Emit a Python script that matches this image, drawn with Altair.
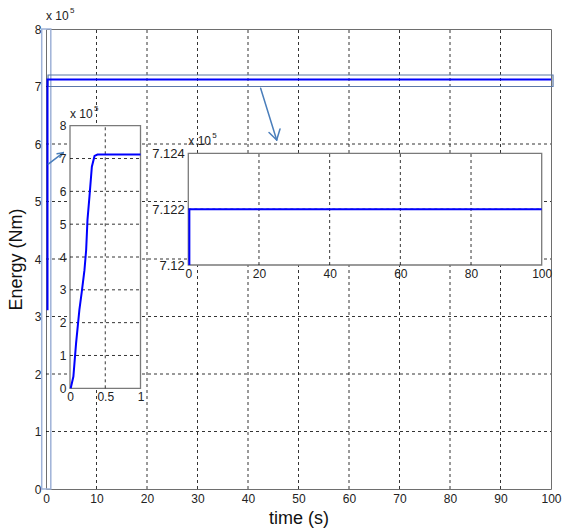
import altair as alt
import pandas as pd

FONT = "Liberation Sans"

# ---------------- data ----------------
main_t = [0.3, 0.3, 100.0]
main_e = [3.11, 7.122, 7.122]

in1_t = [0.01, 0.048, 0.086, 0.133, 0.167, 0.205, 0.229, 0.248, 0.276, 0.31, 0.348, 0.39, 1.0]
in1_e = [0.0, 0.36, 1.37, 2.39, 2.94, 3.60, 4.21, 5.13, 5.84, 6.75, 7.08, 7.122, 7.122]

in2_t = [0.3, 0.3, 100.0]
in2_e = [7.12, 7.122, 7.122]

main_xticks = [0, 10, 20, 30, 40, 50, 60, 70, 80, 90, 100]
main_yticks = [0, 1, 2, 3, 4, 5, 6, 7, 8]
in1_xticks = [0, 0.5, 1]
in1_yticks = [0, 1, 2, 3, 4, 5, 6, 7, 8]
in2_xticks = [0, 20, 40, 60, 80, 100]
in2_yticks = [7.12, 7.122, 7.124]

# highlight boxes (main data units)
zoom_box_x = [0.4, 100.4]
zoom_box_y = [7.0, 7.2]
left_box_x = [-0.85, 0.95]
left_box_y = [0.0, 8.0]

# arrows (main data units): tail->tip and two head strokes
arrow_x = [42.5, 45.68, 45.68]
arrow_y = [6.97, 6.07, 6.07]
arrow_x2 = [45.68, 44.16, 46.34]
arrow_y2 = [6.07, 6.20, 6.26]
arrow2_x = [0.45, 3.43, 3.43]
arrow2_y = [5.65, 5.85, 5.85]
arrow2_x2 = [3.43, 2.2, 2.75]
arrow2_y2 = [5.85, 5.83, 5.77]

# ---------------- helpers ----------------
def seg(x, y, x2, y2):
    return pd.DataFrame({"x": x, "y": y, "x2": x2, "y2": y2})


def grid_df(xt, yt):
    xs, ys, x2s, y2s = [], [], [], []
    for v in xt[1:-1]:
        xs.append(v); ys.append(yt[0]); x2s.append(v); y2s.append(yt[-1])
    for v in yt[1:-1]:
        xs.append(xt[0]); ys.append(v); x2s.append(xt[-1]); y2s.append(v)
    return seg(xs, ys, x2s, y2s)


def make_group(xs, ys, ax, ay):
    def X(f="x"):
        return alt.X(f + ":Q", scale=xs, axis=ax)

    def Y(f="y"):
        return alt.Y(f + ":Q", scale=ys, axis=ay)
    return X, Y


lab = dict(labelFont=FONT, labelColor="#222", labelFlush=False, labelOverlap=False,
           grid=False, ticks=False, domain=False)

# ---------------- main ----------------
mxs = alt.Scale(domain=[0, 100], nice=False, zero=False)
mys = alt.Scale(domain=[0, 8], nice=False, zero=False)
max_ = alt.Axis(values=main_xticks, title="time (s)", labelFontSize=12, labelPadding=4,
                titleFont=FONT, titleFontSize=18, titleFontWeight="normal", titleColor="#111",
                titlePadding=5, orient="bottom", **lab)
may_ = alt.Axis(values=main_yticks, title="Energy (Nm)", labelFontSize=12, labelPadding=5,
                titleFont=FONT, titleFontSize=18, titleFontWeight="normal", titleColor="#111",
                titlePadding=9, orient="left", **lab)
MX, MY = make_group(mxs, mys, max_, may_)

main_grid = alt.Chart(grid_df(main_xticks, main_yticks)).mark_rule(
    color="black", strokeWidth=0.8, strokeDash=[3, 3]
).encode(x=MX(), y=MY(), x2="x2:Q", y2="y2:Q")

left_box = alt.Chart(seg([left_box_x[0]], [left_box_y[0]], [left_box_x[1]], [left_box_y[1]])).mark_rect(
    fill=None, stroke="#9fb2d8", strokeWidth=1.5
).encode(x=MX(), y=MY(), x2="x2:Q", y2="y2:Q")

zoom_box = alt.Chart(seg([zoom_box_x[0]], [zoom_box_y[0]], [zoom_box_x[1]], [zoom_box_y[1]])).mark_rect(
    fill=None, stroke="#5a78a8", strokeWidth=1.2
).encode(x=MX(), y=MY(), x2="x2:Q", y2="y2:Q")

main_line = alt.Chart(pd.DataFrame({"x": main_t, "y": main_e, "i": list(range(len(main_t)))})).mark_line(
    color="#0000ff", strokeWidth=2
).encode(x=MX(), y=MY(), order="i:Q")

arrows = alt.Chart(seg(arrow_x + arrow2_x, arrow_y + arrow2_y, arrow_x2 + arrow2_x2, arrow_y2 + arrow2_y2)).mark_rule(
    color="#4a7ebb", strokeWidth=1.5, strokeCap="round"
).encode(x=MX(), y=MY(), x2="x2:Q", y2="y2:Q")

main_t1 = alt.Chart(pd.DataFrame({"x": [0], "y": [8], "s": ["x 10"]})).mark_text(
    font=FONT, fontSize=12, color="#222", align="left", baseline="alphabetic", dy=-9
).encode(x=MX(), y=MY(), text="s:N")
main_t2 = alt.Chart(pd.DataFrame({"x": [0], "y": [8], "s": ["5"]})).mark_text(
    font=FONT, fontSize=8, color="#222", align="left", baseline="alphabetic", dx=24, dy=-16
).encode(x=MX(), y=MY(), text="s:N")

main = alt.layer(main_grid, left_box, zoom_box, main_line, arrows, main_t1, main_t2)

# ---------------- inset 1 ----------------
i1xs = alt.Scale(domain=[0, 1], range=[24, 94.5], nice=False, zero=False)
i1ys = alt.Scale(domain=[0, 8], range=[359.3, 96.7], nice=False, zero=False)
i1ax = alt.Axis(values=in1_xticks, title=None, orient="bottom", offset=-100.7, labelFontSize=12,
                labelPadding=3, format="~g", zindex=1, **lab)
i1ay = alt.Axis(values=in1_yticks, title=None, orient="left", offset=-24, labelFontSize=12,
                labelPadding=4, zindex=1, **lab)
AX, AY = make_group(i1xs, i1ys, i1ax, i1ay)

in1_box = alt.Chart(seg([in1_xticks[0]], [in1_yticks[0]], [in1_xticks[-1]], [in1_yticks[-1]])).mark_rect(
    fill="white", stroke="#7a7a7a", strokeWidth=1.3
).encode(x=AX(), y=AY(), x2="x2:Q", y2="y2:Q")
in1_grid = alt.Chart(grid_df(in1_xticks, in1_yticks)).mark_rule(
    color="black", strokeWidth=0.8, strokeDash=[3, 3]
).encode(x=AX(), y=AY(), x2="x2:Q", y2="y2:Q")
in1_line = alt.Chart(pd.DataFrame({"x": in1_t, "y": in1_e, "i": list(range(len(in1_t)))})).mark_line(
    color="#0000ff", strokeWidth=2
).encode(x=AX(), y=AY(), order="i:Q")
in1_t1 = alt.Chart(pd.DataFrame({"x": [0], "y": [8], "s": ["x 10"]})).mark_text(
    font=FONT, fontSize=12, color="#222", align="left", baseline="alphabetic", dy=-8
).encode(x=AX(), y=AY(), text="s:N")
in1_t2 = alt.Chart(pd.DataFrame({"x": [0], "y": [8], "s": ["5"]})).mark_text(
    font=FONT, fontSize=8, color="#222", align="left", baseline="alphabetic", dx=24, dy=-15
).encode(x=AX(), y=AY(), text="s:N")

inset1 = alt.layer(in1_box, in1_grid, in1_line, in1_t1, in1_t2)

# ---------------- inset 2 ----------------
i2xs = alt.Scale(domain=[0, 100], range=[142.3, 495.7], nice=False, zero=False)
i2ys = alt.Scale(domain=[7.12, 7.124], range=[236, 124.3], nice=False, zero=False)
i2ax = alt.Axis(values=in2_xticks, title=None, orient="bottom", offset=-224, labelFontSize=12,
                labelPadding=3, zindex=1, **lab)
i2ay = alt.Axis(values=in2_yticks, title=None, orient="left", offset=-142.3, labelFontSize=13,
                labelPadding=4, format=".4~f", zindex=1, **lab)
BX, BY = make_group(i2xs, i2ys, i2ax, i2ay)

in2_box = alt.Chart(seg([in2_xticks[0]], [in2_yticks[0]], [in2_xticks[-1]], [in2_yticks[-1]])).mark_rect(
    fill="white", stroke="#7a7a7a", strokeWidth=1.3
).encode(x=BX(), y=BY(), x2="x2:Q", y2="y2:Q")
in2_grid = alt.Chart(grid_df(in2_xticks, in2_yticks)).mark_rule(
    color="black", strokeWidth=0.8, strokeDash=[3, 3]
).encode(x=BX(), y=BY(), x2="x2:Q", y2="y2:Q")
in2_line = alt.Chart(pd.DataFrame({"x": in2_t, "y": in2_e, "i": list(range(len(in2_t)))})).mark_line(
    color="#0000ff", strokeWidth=2
).encode(x=BX(), y=BY(), order="i:Q")
in2_t1 = alt.Chart(pd.DataFrame({"x": [0], "y": [7.124], "s": ["x 10"]})).mark_text(
    font=FONT, fontSize=12, color="#222", align="left", baseline="alphabetic", dy=-8
).encode(x=BX(), y=BY(), text="s:N")
in2_t2 = alt.Chart(pd.DataFrame({"x": [0], "y": [7.124], "s": ["5"]})).mark_text(
    font=FONT, fontSize=8, color="#222", align="left", baseline="alphabetic", dx=24, dy=-15
).encode(x=BX(), y=BY(), text="s:N")

inset2 = alt.layer(in2_box, in2_grid, in2_line, in2_t1, in2_t2)

chart = alt.layer(main, inset1, inset2).resolve_scale(
    x="independent", y="independent"
).properties(
    width=505, height=460,
    autosize=alt.AutoSizeParams(type="none"),
    padding={"left": 46, "top": 29, "right": 12, "bottom": 42},
    background="white",
).configure_view(stroke="#6e6e6e", strokeWidth=1)

chart.save("out.html", embed_options={"renderer": "svg", "actions": False})
